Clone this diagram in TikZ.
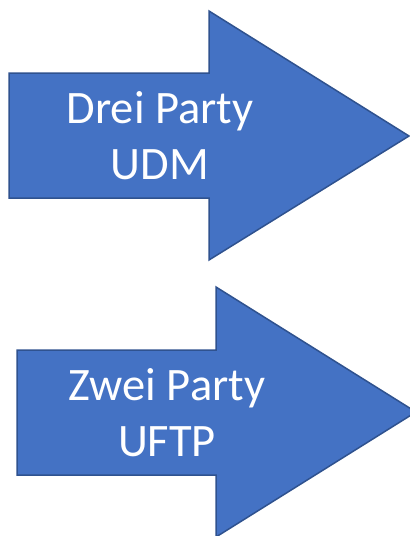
\documentclass[tikz,border=0pt]{standalone}
\usepackage{fontspec}
\setmainfont{Carlito}
\definecolor{arrowfill}{HTML}{4472C4}
\definecolor{arrowline}{HTML}{2F528F}
\tikzset{
  bigarrow/.style={fill=arrowfill, draw=arrowline, line width=1.5pt, line join=miter},
  arrowtext/.style={text=white, align=center, font=\fontsize{46.5}{56}\selectfont, inner sep=0pt}
}
\begin{document}
\begin{tikzpicture}[x=1pt, y=-1pt]
                \useasboundingbox (0,0) rectangle (410,536);
                \begin{scope}
                \clip (0,0) rectangle (410,536);
                % upper arrow
                \draw[bigarrow] (9,73) -- (209,73) -- (209,11) -- (409,136) -- (209,260) -- (209,198) -- (9,198) -- cycle;
                % lower arrow
                \draw[bigarrow] (17,350) -- (216,350) -- (216,287) -- (416,412) -- (216,537) -- (216,475) -- (17,475) -- cycle;
                \end{scope}
                \node[arrowtext] (drei) at (160,136) {Drei Party\\UDM};
                \node[arrowtext] (zwei) at (167,413) {Zwei Party\\UFTP};
            \end{tikzpicture}
\end{document}
